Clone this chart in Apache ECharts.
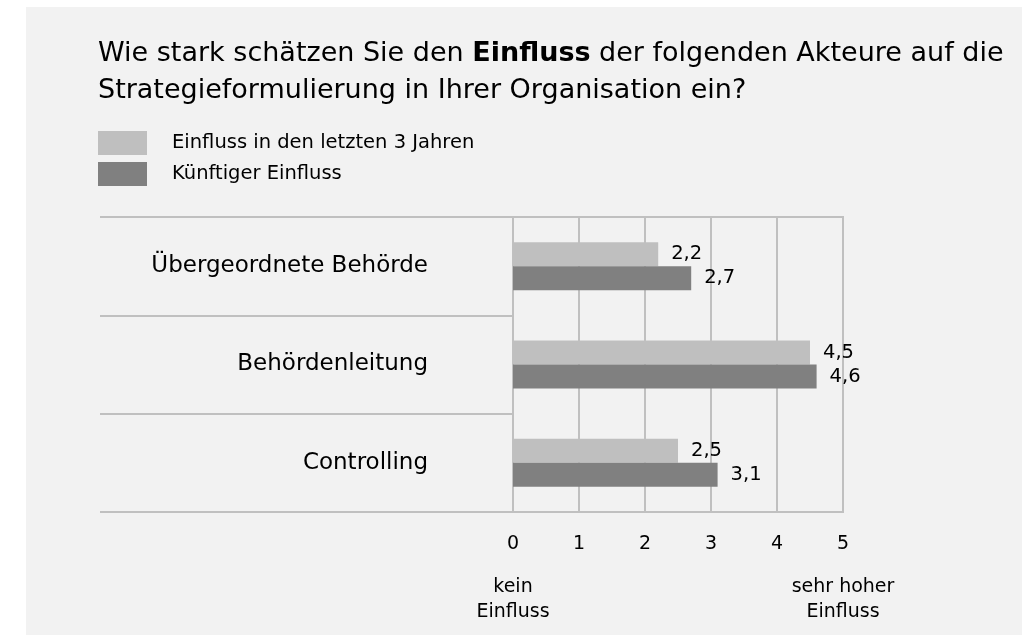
<!DOCTYPE html>
<html>
<head>
<meta charset="utf-8">
<script src="https://cdn.jsdelivr.net/npm/echarts@6/dist/echarts.min.js"></script>
<style>
  html, body { margin: 0; padding: 0; background: #ffffff; }
  #chart { width: 1022px; height: 635px; }
</style>
</head>
<body>
<div id="chart"></div>
<script>
// Kategorien und Werte (Skala 0 = kein Einfluss ... 5 = sehr hoher Einfluss)
var akteure = ['Übergeordnete Behörde', 'Behördenleitung', 'Controlling'];
var einflussLetzte3 = [2.2, 4.5, 2.5];
var einflussKuenftig = [2.7, 4.6, 3.1];
var serienNamen = ['Einfluss in den letzten 3 Jahren', 'Künftiger Einfluss'];
var skalaEnden = { 0: 'kein\nEinfluss', 5: 'sehr hoher\nEinfluss' };

var font = 'DejaVu Sans';
var lineColor = '#c0c0c0';

var dom = document.getElementById('chart');
var myChart = echarts.init(dom);

function komma(p) {
  return String(p.value).replace('.', ',');
}

var option = {
  textStyle: { fontFamily: font },
  graphic: [{
    type: 'rect',
    left: 26, top: 7, z: -10,
    shape: { width: 996, height: 628 },
    style: { fill: '#f2f2f2' }
  }],
  title: {
    left: 98,
    top: 35,
    padding: 0,
    text: 'Wie stark schätzen Sie den {b|Einfluss} der folgenden Akteure auf die\nStrategieformulierung in Ihrer Organisation ein?',
    textStyle: {
      fontFamily: font,
      fontSize: 27,
      fontWeight: 'normal',
      color: '#000',
      lineHeight: 37,
      rich: {
        b: { fontFamily: font, fontSize: 27, fontWeight: 'bold', color: '#000', lineHeight: 37 }
      }
    }
  },
  legend: {
    orient: 'vertical',
    left: 98,
    top: 131,
    padding: 0,
    itemWidth: 49,
    itemHeight: 24,
    itemGap: 7,
    icon: 'rect',
    data: serienNamen,
    textStyle: { fontFamily: font, fontSize: 19.5, color: '#000', padding: [0, 0, 0, 20] }
  },
  grid: {
    left: 513, right: 179, top: 217, bottom: 123,
    show: true,
    borderColor: lineColor,
    borderWidth: 2,
    backgroundColor: 'transparent'
  },
  xAxis: [{
    type: 'value',
    min: 0, max: 5, interval: 1,
    axisLine: { show: true, lineStyle: { color: lineColor, width: 2 } },
    axisTick: { show: false },
    splitLine: { show: true, lineStyle: { color: lineColor, width: 2 } },
    axisLabel: { fontFamily: font, fontSize: 19, color: '#000', margin: 23 }
  }, {
    type: 'value',
    position: 'bottom',
    min: 0, max: 5, interval: 5,
    axisLine: { show: false },
    axisTick: { show: false },
    splitLine: { show: false },
    axisLabel: {
      fontFamily: font, fontSize: 19, color: '#000', margin: 63, lineHeight: 25,
      formatter: function (v) { return skalaEnden[v] || ''; }
    }
  }],
  yAxis: {
    type: 'category',
    inverse: true,
    data: akteure,
    axisLine: { show: true, lineStyle: { color: lineColor, width: 2 } },
    axisTick: { show: true, length: 413, lineStyle: { color: lineColor, width: 2 } },
    axisLabel: { fontFamily: font, fontSize: 23, color: '#000', margin: 85 }
  },
  series: [{
    name: serienNamen[0],
    type: 'bar',
    data: einflussLetzte3,
    barWidth: 24,
    barGap: '0%',
    itemStyle: { color: '#bfbfbf' },
    label: { show: true, position: 'right', distance: 13, formatter: komma,
      fontFamily: font, fontSize: 19.5, color: '#000' }
  }, {
    name: serienNamen[1],
    type: 'bar',
    data: einflussKuenftig,
    barWidth: 24,
    barGap: '0%',
    itemStyle: { color: '#808080' },
    label: { show: true, position: 'right', distance: 13, formatter: komma,
      fontFamily: font, fontSize: 19.5, color: '#000' }
  }]
};

myChart.setOption(option);
</script>
</body>
</html>
